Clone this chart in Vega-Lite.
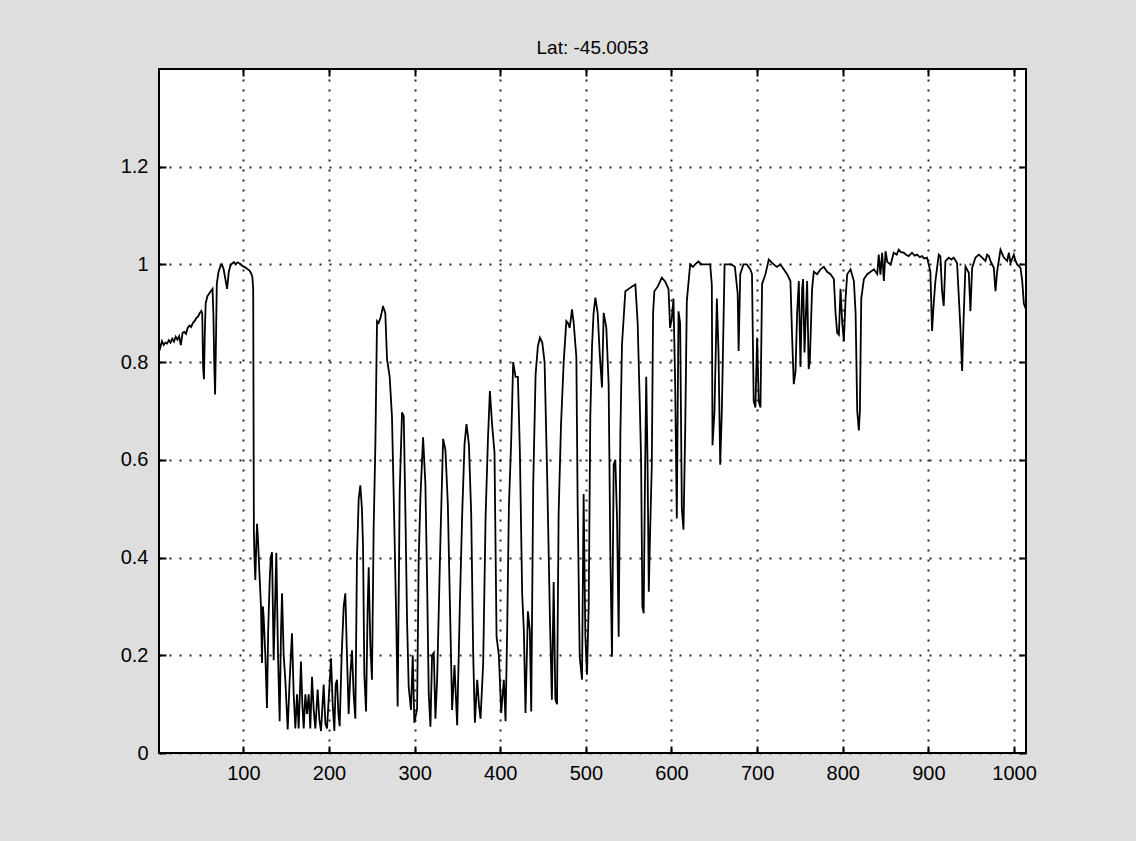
{
"$schema": "https://vega.github.io/schema/vega-lite/v6.json",
"width": 867,
"height": 684,
"autosize": {"type": "none"},
"padding": {"left": 159, "top": 69, "right": 110, "bottom": 88},
"background": "#dedede",
"title": {"text": "Lat: -45.0053", "font": "Liberation Sans", "fontSize": 19, "fontWeight": "normal", "color": "#000", "frame": "group", "anchor": "middle", "offset": 10},
"config": {
  "view": {"stroke": "#000", "strokeWidth": 2, "fill": "#ffffff"},
  "axis": {"labelFont": "Liberation Sans", "labelFontSize": 20, "labelColor": "#000", "tickColor": "#000", "tickWidth": 2, "tickSize": -7, "domain": false, "title": null, "gridColor": "#000", "gridDash": [2, 8], "gridWidth": 2, "gridOpacity": 0.85}
},
"data": {"values": [
{"x":1.5,"y":0.84},{"x":3,"y":0.83},{"x":5,"y":0.843},{"x":7,"y":0.835},{"x":9,"y":0.84},{"x":11,"y":0.838},{"x":13,"y":0.845},{"x":15,"y":0.84},{"x":17,"y":0.848},{"x":19,"y":0.842},{"x":21,"y":0.852},{"x":23,"y":0.846},{"x":25,"y":0.853},{"x":27,"y":0.835},{"x":29,"y":0.86},{"x":31,"y":0.862},{"x":33,"y":0.858},{"x":35,"y":0.87},{"x":37,"y":0.875},{"x":39,"y":0.872},{"x":41,"y":0.88},{"x":43,"y":0.884},{"x":45,"y":0.89},{"x":47,"y":0.893},{"x":49,"y":0.9},{"x":51,"y":0.905},{"x":52,"y":0.9},{"x":53,"y":0.79},{"x":54,"y":0.765},{"x":55,"y":0.86},{"x":56,"y":0.92},{"x":58,"y":0.935},{"x":60,"y":0.94},{"x":62,"y":0.945},{"x":64,"y":0.95},{"x":65,"y":0.9},{"x":66,"y":0.8},{"x":67,"y":0.734},{"x":68,"y":0.84},{"x":69,"y":0.96},{"x":71,"y":0.985},{"x":73,"y":0.995},{"x":75,"y":1.0},{"x":77,"y":0.99},{"x":79,"y":0.97},{"x":81,"y":0.95},{"x":83,"y":0.985},{"x":85,"y":0.998},{"x":87,"y":1.002},{"x":89,"y":1.005},{"x":91,"y":1.0},{"x":93,"y":1.004},{"x":95,"y":1.003},{"x":97,"y":1.0},{"x":99,"y":0.997},{"x":101,"y":0.995},{"x":103,"y":0.993},{"x":105,"y":0.99},{"x":107,"y":0.988},{"x":109,"y":0.982},{"x":110.5,"y":0.975},{"x":111.5,"y":0.95},{"x":112.3,"y":0.452},
{"x":113,"y":0.4},{"x":114,"y":0.354},{"x":115,"y":0.42},{"x":116,"y":0.469},{"x":117,"y":0.44},{"x":118,"y":0.4},{"x":119,"y":0.36},{"x":120.6,"y":0.3},{"x":121.8,"y":0.184},{"x":122.8,"y":0.3},{"x":123.7,"y":0.28},{"x":125.7,"y":0.2},{"x":127.6,"y":0.092},{"x":129,"y":0.25},{"x":130.8,"y":0.354},{"x":132,"y":0.4},{"x":133.5,"y":0.411},{"x":135.4,"y":0.19},{"x":137,"y":0.3},{"x":138.5,"y":0.41},{"x":140.5,"y":0.2},{"x":142.4,"y":0.065},{"x":144,"y":0.25},{"x":145.2,"y":0.327},{"x":147.1,"y":0.2},{"x":149,"y":0.15},{"x":151.8,"y":0.048},{"x":154.1,"y":0.15},{"x":156.8,"y":0.245},{"x":158.8,"y":0.12},{"x":160.7,"y":0.05},{"x":162.7,"y":0.12},{"x":164.6,"y":0.05},{"x":167.3,"y":0.187},{"x":168.9,"y":0.1},{"x":170.5,"y":0.05},{"x":172.4,"y":0.12},{"x":174.3,"y":0.08},{"x":176.3,"y":0.12},{"x":178.2,"y":0.05},{"x":180.2,"y":0.156},{"x":182.1,"y":0.09},{"x":184.1,"y":0.05},{"x":186.8,"y":0.13},{"x":188.7,"y":0.07},{"x":190.7,"y":0.045},{"x":193.8,"y":0.14},{"x":195.8,"y":0.06},{"x":197.7,"y":0.05},{"x":200,"y":0.12},{"x":202.4,"y":0.194},{"x":204.3,"y":0.1},{"x":206.3,"y":0.045},{"x":207.8,"y":0.14},{"x":209.4,"y":0.15},{"x":211,"y":0.08},{"x":212.5,"y":0.055},{"x":214.8,"y":0.2},{"x":217.2,"y":0.3},{"x":219.1,"y":0.327},{"x":221,"y":0.2},{"x":223,"y":0.08},{"x":224.9,"y":0.16},{"x":226.9,"y":0.21},{"x":228.8,"y":0.12},{"x":230.8,"y":0.07},{"x":232.7,"y":0.4},{"x":234.7,"y":0.52},{"x":236.6,"y":0.548},{"x":238.5,"y":0.5},{"x":239.8,"y":0.42},{"x":241.3,"y":0.16},{"x":243.3,"y":0.085},{"x":245.2,"y":0.3},{"x":246.4,"y":0.38},{"x":248.3,"y":0.22},{"x":250.2,"y":0.15},
{"x":252.2,"y":0.462},{"x":254.2,"y":0.633},{"x":256.1,"y":0.884},{"x":258,"y":0.88},{"x":260,"y":0.89},{"x":262,"y":0.905},{"x":263.1,"y":0.915},{"x":265.8,"y":0.9},{"x":267.8,"y":0.806},{"x":270.9,"y":0.77},{"x":273.6,"y":0.687},{"x":276.4,"y":0.46},{"x":278.7,"y":0.258},{"x":280.2,"y":0.095},{"x":282.6,"y":0.537},{"x":285.3,"y":0.697},{"x":287.3,"y":0.69},{"x":289.2,"y":0.5},{"x":291.2,"y":0.27},{"x":293.1,"y":0.135},{"x":295.8,"y":0.088},{"x":297.8,"y":0.2},{"x":299.7,"y":0.062},{"x":302.9,"y":0.09},{"x":304.8,"y":0.4},{"x":306.8,"y":0.524},{"x":309.9,"y":0.646},{"x":312.6,"y":0.55},{"x":314.6,"y":0.35},{"x":316.5,"y":0.122},{"x":318.5,"y":0.054},{"x":320.4,"y":0.2},{"x":322.4,"y":0.205},{"x":324.3,"y":0.07},{"x":326.3,"y":0.15},{"x":328.2,"y":0.29},{"x":330.2,"y":0.44},{"x":333.3,"y":0.643},{"x":336,"y":0.62},{"x":338.8,"y":0.51},{"x":341.9,"y":0.25},{"x":343.8,"y":0.088},{"x":346.6,"y":0.18},{"x":349.7,"y":0.057},{"x":352.8,"y":0.3},{"x":355.6,"y":0.49},{"x":358.3,"y":0.632},{"x":360.6,"y":0.673},{"x":363.4,"y":0.632},{"x":366.1,"y":0.49},{"x":368.4,"y":0.204},{"x":370.4,"y":0.062},{"x":373.1,"y":0.15},{"x":375.1,"y":0.1},{"x":377,"y":0.07},{"x":380.1,"y":0.184},{"x":382.9,"y":0.483},{"x":385.6,"y":0.639},{"x":387.9,"y":0.741},{"x":390.6,"y":0.67},{"x":393.3,"y":0.615},{"x":395.7,"y":0.238},{"x":398.4,"y":0.2},{"x":401.1,"y":0.082},{"x":404.2,"y":0.15},{"x":406.2,"y":0.065},{"x":408.1,"y":0.25},{"x":410.1,"y":0.503},{"x":412.8,"y":0.639},{"x":415.1,"y":0.8},{"x":417.9,"y":0.77},{"x":420.6,"y":0.77},{"x":422.9,"y":0.62},{"x":425.6,"y":0.327},{"x":427.6,"y":0.25},{"x":429.5,"y":0.082},{"x":432.3,"y":0.29},{"x":434.6,"y":0.25},{"x":436.2,"y":0.085},{"x":438.5,"y":0.548},{"x":441.3,"y":0.775},{"x":444,"y":0.833},{"x":446.4,"y":0.85},{"x":449.1,"y":0.84},{"x":451.8,"y":0.8},{"x":454.9,"y":0.56},{"x":458.1,"y":0.27},{"x":460.3,"y":0.109},{"x":462.4,"y":0.35},{"x":464.4,"y":0.11},{"x":466.3,"y":0.1},{"x":468.2,"y":0.49},{"x":471,"y":0.673},{"x":474.1,"y":0.8},{"x":477.2,"y":0.884},{"x":479,"y":0.88},{"x":481.1,"y":0.87},{"x":483.8,"y":0.908},{"x":485.8,"y":0.88},{"x":488.9,"y":0.81},{"x":490.4,"y":0.51},{"x":492.8,"y":0.197},{"x":495.5,"y":0.15},{"x":497.4,"y":0.53},{"x":499.4,"y":0.24},{"x":501.3,"y":0.16},{"x":503.3,"y":0.3},{"x":505.2,"y":0.69},{"x":507.2,"y":0.833},{"x":509,"y":0.9},{"x":511.1,"y":0.932},{"x":513.8,"y":0.9},{"x":516.1,"y":0.82},{"x":518.8,"y":0.748},{"x":520.8,"y":0.901},{"x":523.9,"y":0.87},{"x":526.6,"y":0.755},{"x":528.6,"y":0.407},{"x":530.5,"y":0.197},{"x":532.5,"y":0.59},{"x":534.4,"y":0.6},{"x":536.4,"y":0.48},{"x":538.3,"y":0.238},{"x":540.3,"y":0.653},{"x":542.2,"y":0.836},{"x":546.1,"y":0.945},{"x":550,"y":0.95},{"x":554,"y":0.955},{"x":557.8,"y":0.959},{"x":560.5,"y":0.88},{"x":562.9,"y":0.72},{"x":564.5,"y":0.6},{"x":566,"y":0.3},{"x":567.5,"y":0.286},{"x":569,"y":0.55},{"x":570.5,"y":0.77},{"x":572,"y":0.6},{"x":573.5,"y":0.33},{"x":575,"y":0.45},{"x":577,"y":0.59},{"x":578.5,"y":0.9},{"x":580,"y":0.945},{"x":584,"y":0.955},{"x":588.7,"y":0.973},{"x":592.6,"y":0.965},{"x":596.5,"y":0.95},{"x":598.4,"y":0.87},{"x":600.4,"y":0.89},{"x":602.3,"y":0.93},{"x":604.3,"y":0.756},{"x":606.2,"y":0.48},{"x":608.2,"y":0.904},{"x":610.1,"y":0.88},{"x":612.1,"y":0.5},{"x":614,"y":0.457},{"x":616,"y":0.66},{"x":617.9,"y":0.925},{"x":621.8,"y":1.0},{"x":625,"y":0.995},{"x":627.6,"y":1.0},{"x":631.5,"y":1.006},{"x":635,"y":1.0},{"x":639.3,"y":1.0},{"x":645.2,"y":1.0},{"x":647.1,"y":0.958},{"x":647.9,"y":0.63},{"x":650.2,"y":0.7},{"x":653,"y":0.93},{"x":654.9,"y":0.82},{"x":656.9,"y":0.59},{"x":658.8,"y":0.7},{"x":662,"y":1.0},{"x":666,"y":1.0},{"x":670,"y":1.0},{"x":674,"y":0.995},{"x":677.3,"y":0.94},{"x":678.4,"y":0.823},{"x":680.3,"y":0.98},{"x":684,"y":1.0},{"x":688,"y":1.0},{"x":692,"y":0.99},{"x":694,"y":0.98},{"x":696,"y":0.72},{"x":698,"y":0.707},{"x":700,"y":0.85},{"x":701.9,"y":0.72},{"x":703.9,"y":0.707},{"x":705.8,"y":0.96},{"x":709.7,"y":0.98},{"x":713.6,"y":1.01},{"x":719.4,"y":1.0},{"x":723,"y":0.995},{"x":727.2,"y":1.0},{"x":731.1,"y":0.99},{"x":735,"y":0.98},{"x":738.9,"y":0.966},{"x":740.9,"y":0.85},{"x":742.8,"y":0.755},{"x":744.8,"y":0.78},{"x":746.7,"y":0.9},{"x":748.7,"y":0.966},{"x":750.6,"y":0.79},{"x":752.6,"y":0.95},{"x":753.7,"y":0.97},{"x":755.3,"y":0.82},{"x":758.4,"y":0.966},{"x":760.2,"y":0.786},{"x":761.5,"y":0.8},{"x":764.2,"y":0.95},{"x":766.2,"y":0.985},{"x":770.1,"y":0.98},{"x":774,"y":0.99},{"x":777.9,"y":0.995},{"x":781.8,"y":0.985},{"x":785.7,"y":0.98},{"x":789.6,"y":0.97},{"x":791.6,"y":0.9},{"x":793.5,"y":0.86},{"x":795.5,"y":0.856},{"x":797.4,"y":0.95},{"x":799.4,"y":0.88},{"x":801.3,"y":0.843},{"x":803.3,"y":0.93},{"x":805.2,"y":0.98},{"x":809.1,"y":0.99},{"x":813,"y":0.966},{"x":815,"y":0.9},{"x":816.9,"y":0.7},{"x":818.8,"y":0.66},{"x":820,"y":0.7},{"x":821.6,"y":0.93},{"x":824.7,"y":0.97},{"x":828.6,"y":0.98},{"x":832.5,"y":0.985},{"x":836.4,"y":0.99},{"x":840.3,"y":0.98},{"x":842,"y":1.02},{"x":844,"y":0.979},{"x":846,"y":1.024},{"x":848,"y":0.966},{"x":850,"y":1.027},{"x":852,"y":1.005},{"x":856,"y":1.0},{"x":859.5,"y":1.024},{"x":863,"y":1.02},{"x":865.4,"y":1.03},{"x":868,"y":1.025},{"x":871.2,"y":1.024},{"x":874,"y":1.02},{"x":877,"y":1.017},{"x":880.9,"y":1.024},{"x":884,"y":1.018},{"x":886.8,"y":1.02},{"x":890,"y":1.015},{"x":892.6,"y":1.017},{"x":895,"y":1.012},{"x":898.4,"y":1.014},{"x":902.3,"y":0.986},{"x":904.3,"y":0.864},{"x":906.2,"y":0.92},{"x":908.2,"y":0.966},{"x":912.1,"y":1.02},{"x":914,"y":1.017},{"x":916,"y":0.945},{"x":917.9,"y":0.915},{"x":919.9,"y":1.007},{"x":923.8,"y":1.014},{"x":927,"y":1.01},{"x":929.6,"y":1.014},{"x":933.5,"y":1.003},{"x":937.4,"y":0.871},{"x":939.4,"y":0.782},{"x":941.3,"y":0.898},{"x":943.3,"y":0.996},{"x":947.2,"y":0.983},{"x":949.1,"y":0.904},{"x":951.1,"y":0.993},{"x":955,"y":1.014},{"x":958.9,"y":1.02},{"x":962.8,"y":1.014},{"x":966.7,"y":1.007},{"x":968.6,"y":1.02},{"x":970.6,"y":1.017},{"x":972.5,"y":1.007},{"x":976.4,"y":0.993},{"x":978.4,"y":0.945},{"x":980.3,"y":0.986},{"x":984.2,"y":1.03},{"x":988.1,"y":1.014},{"x":992,"y":1.007},{"x":994,"y":1.024},{"x":995.9,"y":1.003},{"x":999.8,"y":1.02},{"x":1001.8,"y":1.007},{"x":1003.7,"y":1.0},{"x":1007.6,"y":0.993},{"x":1009.6,"y":0.966},{"x":1011.5,"y":0.92},{"x":1013.5,"y":0.91}
]},
"layer": [
  {
    "mark": {"type": "line", "color": "#000", "strokeWidth": 1.8, "clip": true},
    "encoding": {
      "x": {"field": "x", "type": "quantitative", "scale": {"domain": [1.5, 1014], "nice": false, "zero": false},
            "axis": {"orient": "bottom", "values": [100,200,300,400,500,600,700,800,900,1000], "format": "d", "grid": true, "labelPadding": 17}},
      "y": {"field": "y", "type": "quantitative", "scale": {"domain": [0, 1.4], "nice": false, "zero": false},
            "axis": {"orient": "left", "values": [0,0.2,0.4,0.6,0.8,1,1.2], "format": "~g", "grid": true, "labelPadding": 18}}
    }
  },
  {
    "mark": {"type": "point", "opacity": 0},
    "encoding": {
      "x": {"field": "x", "type": "quantitative", "axis": {"orient": "top", "values": [100,200,300,400,500,600,700,800,900,1000], "labels": false, "grid": false}},
      "y": {"field": "y", "type": "quantitative", "axis": {"orient": "right", "values": [0,0.2,0.4,0.6,0.8,1,1.2], "labels": false, "grid": false}}
    }
  }
],
"resolve": {"axis": {"x": "independent", "y": "independent"}}
}
